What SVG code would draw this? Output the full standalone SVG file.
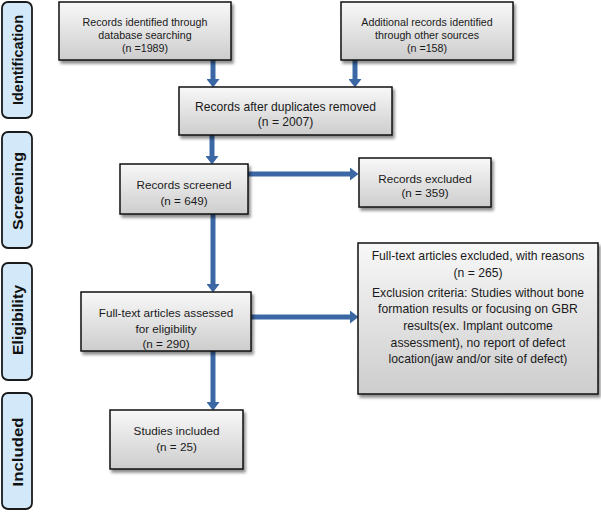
<svg xmlns="http://www.w3.org/2000/svg" width="601" height="513" viewBox="0 0 601 513">
<defs>
<linearGradient id="boxg" x1="0" y1="0" x2="0" y2="1">
<stop offset="0" stop-color="#f8f8f8"/>
<stop offset="1" stop-color="#cdcdcd"/>
</linearGradient>
<filter id="sh" x="-10%" y="-10%" width="130%" height="140%">
<feGaussianBlur in="SourceAlpha" stdDeviation="1.5"/>
<feOffset dx="2" dy="3" result="o"/>
<feComponentTransfer><feFuncA type="linear" slope="0.45"/></feComponentTransfer>
<feMerge><feMergeNode/><feMergeNode in="SourceGraphic"/></feMerge>
</filter>
<marker id="ah" markerUnits="userSpaceOnUse" markerWidth="9" markerHeight="13" refX="0" refY="6.5" orient="auto">
<path d="M0,0 L8.5,6.5 L0,13 z" fill="#3b68a4"/>
</marker>
</defs>
<style>
.box{fill:url(#boxg);stroke:#111;stroke-width:1.5;filter:url(#sh)}
.side{fill:#d3e8f8;stroke:#1a1a1a;stroke-width:1.8}
.st{font-family:"Liberation Sans",Arial,sans-serif;font-weight:bold;font-size:15.5px;fill:#111;text-anchor:middle}
.t{font-family:"Liberation Sans",Arial,sans-serif;font-size:11.7px;fill:#1a1a1a;text-anchor:middle}
.ts{font-size:10.7px}
.tm{font-size:12.1px}
.tl{font-size:12.2px}
.c{stroke:#3b68a4;stroke-width:5;fill:none;marker-end:url(#ah)}
</style>
<g id="side-identification"><rect class="side" x="2" y="2" width="30" height="116" rx="6"/><text class="st" transform="translate(23,60) rotate(-90)" textLength="90" lengthAdjust="spacingAndGlyphs">Identification</text></g>
<g id="side-screening"><rect class="side" x="2" y="132" width="30" height="116" rx="6"/><text class="st" transform="translate(23,191) rotate(-90)" textLength="78" lengthAdjust="spacingAndGlyphs">Screening</text></g>
<g id="side-eligibility"><rect class="side" x="2" y="263" width="30" height="117" rx="6"/><text class="st" transform="translate(23,320) rotate(-90)" textLength="70" lengthAdjust="spacingAndGlyphs">Eligibility</text></g>
<g id="side-included"><rect class="side" x="2" y="393" width="30" height="116" rx="6"/><text class="st" transform="translate(23,452) rotate(-90)" textLength="69" lengthAdjust="spacingAndGlyphs">Included</text></g>
<g id="connectors">
<line class="c" x1="213" y1="60" x2="213" y2="79"/>
<line class="c" x1="355" y1="60" x2="355" y2="79"/>
<line class="c" x1="212" y1="135" x2="212" y2="156"/>
<line class="c" x1="213" y1="214" x2="213" y2="284"/>
<line class="c" x1="213" y1="351" x2="213" y2="402"/>
<line class="c" x1="248" y1="174" x2="350" y2="174"/>
<line class="c" x1="251" y1="317" x2="350" y2="317"/>
</g>
<g id="n-database"><rect class="box" x="59" y="2" width="172" height="58"/>
<text class="t ts" x="145" y="26">Records identified through</text>
<text class="t ts" x="145" y="39">database searching</text>
<text class="t ts" x="145" y="52">(n =1989)</text></g>
<g id="n-other"><rect class="box" x="341" y="2" width="172" height="58"/>
<text class="t ts" x="427" y="26">Additional records identified</text>
<text class="t ts" x="427" y="39">through other sources</text>
<text class="t ts" x="427" y="52">(n =158)</text></g>
<g id="n-duplicates"><rect class="box" x="179" y="87" width="213" height="48"/>
<text class="t tm" x="285.5" y="111">Records after duplicates removed</text>
<text class="t tm" x="285.5" y="126">(n = 2007)</text></g>
<g id="n-screened"><rect class="box" x="120" y="164" width="128" height="50"/>
<text class="t" x="184" y="189">Records screened</text>
<text class="t" x="184" y="205">(n = 649)</text></g>
<g id="n-excluded"><rect class="box" x="359" y="158" width="132" height="49"/>
<text class="t" x="425" y="183">Records excluded</text>
<text class="t" x="425" y="197">(n = 359)</text></g>
<g id="n-fulltext-excluded"><rect class="box" x="358" y="243" width="240" height="151"/>
<text class="t tl" x="478" y="259.5">Full-text articles excluded, with reasons</text>
<text class="t tl" x="478" y="276.5">(n = 265)</text>
<text class="t tl" x="478" y="296.5">Exclusion criteria: Studies without bone</text>
<text class="t tl" x="478" y="312.5">formation results or focusing on GBR</text>
<text class="t tl" x="478" y="329.5">results(ex. Implant outcome</text>
<text class="t tl" x="478" y="346.5">assessment), no report of defect</text>
<text class="t tl" x="478" y="362.5">location(jaw and/or site of defect)</text></g>
<g id="n-assessed"><rect class="box" x="81" y="292" width="170" height="59"/>
<text class="t" x="166" y="317">Full-text articles assessed</text>
<text class="t" x="166" y="333">for eligibility</text>
<text class="t" x="166" y="348">(n = 290)</text></g>
<g id="n-included"><rect class="box" x="110" y="410" width="133" height="59"/>
<text class="t" x="176.5" y="435">Studies included</text>
<text class="t" x="176.5" y="451">(n = 25)</text></g>
</svg>
